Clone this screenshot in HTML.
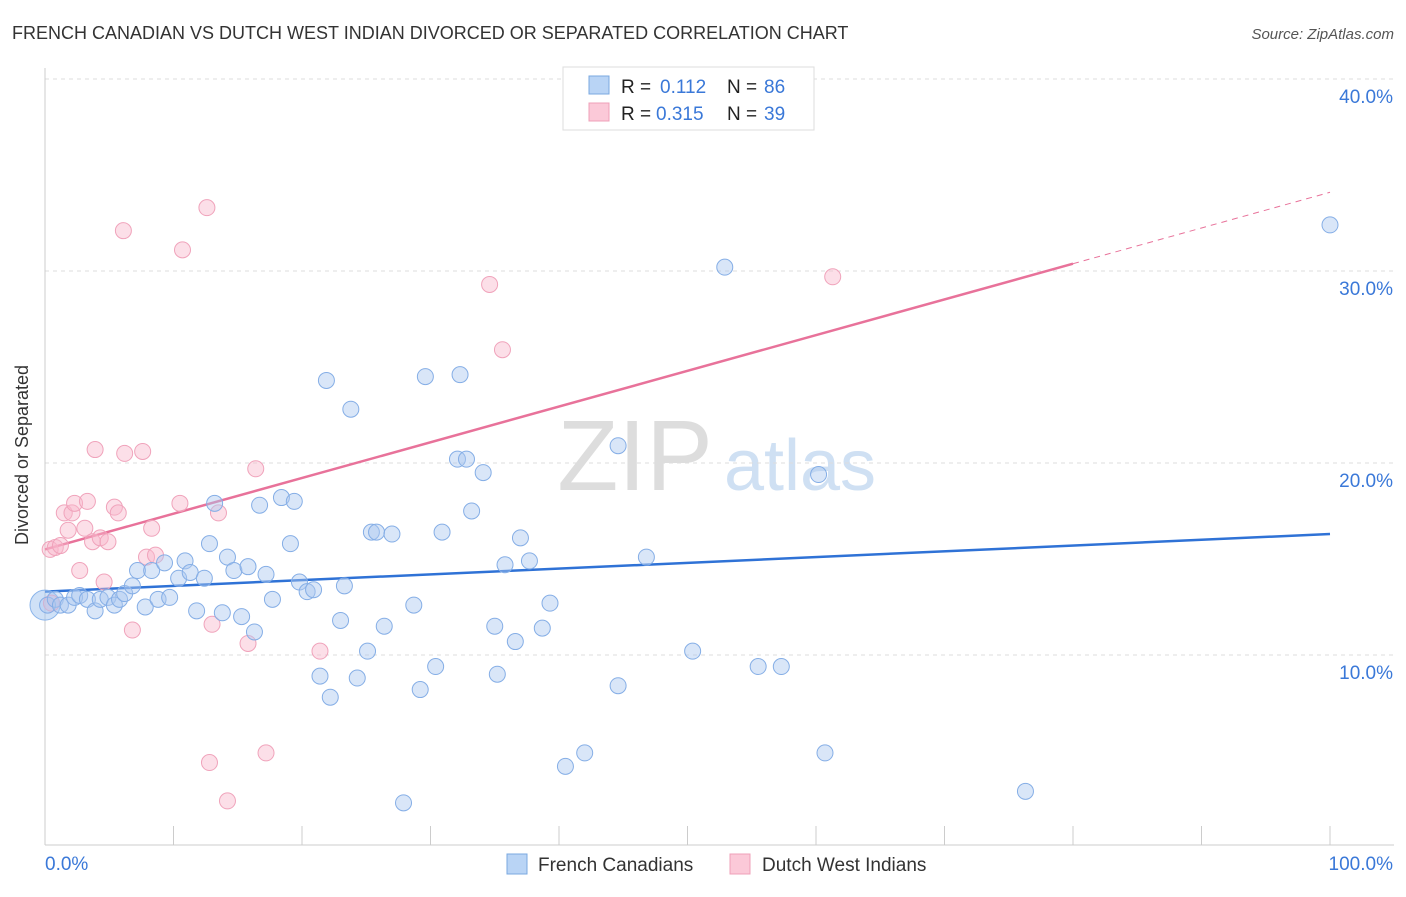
<!DOCTYPE html>
<html><head><meta charset="utf-8"><style>
body{margin:0;background:#fff;font-family:"Liberation Sans",sans-serif;}
svg text{font-family:"Liberation Sans",sans-serif;}
</style></head><body>
<svg id="chart" width="1406" height="892" xmlns="http://www.w3.org/2000/svg">
<text x="12" y="39" font-size="18" fill="#333">FRENCH CANADIAN VS DUTCH WEST INDIAN DIVORCED OR SEPARATED CORRELATION CHART</text>
<text x="1394" y="39" font-size="15" fill="#555" font-style="italic" text-anchor="end">Source: ZipAtlas.com</text>
<text x="28" y="455" font-size="18" fill="#333" text-anchor="middle" transform="rotate(-90 28 455)">Divorced or Separated</text>
<g>
<text x="635" y="490" font-size="100" fill="#ddd" font-family="Liberation Serif,serif" text-anchor="middle">ZIP</text>
<text x="800" y="490" font-size="72" fill="#cfe0f3" text-anchor="middle">atlas</text>
</g>
<g id="grid"></g><g id="axes"></g><g id="trends"></g><g id="pts"></g>
<g>
<rect x="563" y="67" width="251" height="63" fill="#fff" stroke="#ddd"/>
<rect x="589" y="76" width="20" height="18" fill="#b9d4f5" stroke="#7aa8e0"/>
<rect x="589" y="103" width="20" height="18" fill="#fbc9d8" stroke="#efa0b8"/>
<text x="621" y="93" font-size="19" fill="#222">R = </text><text x="660" y="93" font-size="19" fill="#3a78d8">0.112</text>
<text x="727" y="93" font-size="19" fill="#222">N = </text><text x="764" y="93" font-size="19" fill="#3a78d8">86</text>
<text x="621" y="120" font-size="19" fill="#222">R = </text><text x="656" y="120" font-size="19" fill="#3a78d8">0.315</text>
<text x="727" y="120" font-size="19" fill="#222">N = </text><text x="764" y="120" font-size="19" fill="#3a78d8">39</text>
</g>
<g>
<rect x="507" y="854" width="20" height="20" fill="#b9d4f5" stroke="#7aa8e0"/>
<text x="538" y="871" font-size="19" fill="#333">French Canadians</text>
<rect x="730" y="854" width="20" height="20" fill="#fbc9d8" stroke="#efa0b8"/>
<text x="762" y="871" font-size="19" fill="#333">Dutch West Indians</text>
</g>
</svg>
<script>
const yTicks=[10,20,30,40];
const xTickLabels=["0.0%","100.0%"];
const blueX=[0.2,0.8,1.2,1.8,2.3,2.7,3.3,3.9,4.3,4.9,5.4,5.8,6.2,6.8,7.2,7.8,8.3,8.8,9.3,9.7,10.4,10.9,11.3,11.8,12.4,12.8,13.2,13.8,14.2,14.7,15.3,15.8,16.3,16.7,17.2,17.7,18.4,19.1,19.4,19.8,20.4,20.9,21.4,21.9,22.2,23.0,23.3,23.8,24.3,25.1,25.4,25.8,26.4,27.0,27.9,28.7,29.2,29.6,30.4,30.9,32.1,32.3,32.8,33.2,34.1,35.0,35.2,35.8,36.6,37.0,37.7,38.7,39.3,40.5,42.0,44.6,44.6,46.8,50.4,52.9,55.5,57.3,60.2,60.7,76.3,100];
const blueY=[12.6,12.9,12.6,12.6,13.0,13.1,12.9,12.3,12.9,13.0,12.6,12.9,13.2,13.6,14.4,12.5,14.4,12.9,14.8,13.0,14.0,14.9,14.3,12.3,14.0,15.8,17.9,12.2,15.1,14.4,12.0,14.6,11.2,17.8,14.2,12.9,18.2,15.8,18.0,13.8,13.3,13.4,8.9,24.3,7.8,11.8,13.6,22.8,8.8,10.2,16.4,16.4,11.5,16.3,2.3,12.6,8.2,24.5,9.4,16.4,20.2,24.6,20.2,17.5,19.5,11.5,9.0,14.7,10.7,16.1,14.9,11.4,12.7,4.2,4.9,20.9,8.4,15.1,10.2,30.2,9.4,9.4,19.4,4.9,2.9,32.4];
const pinkX=[0.4,0.8,1.2,1.5,1.8,2.1,2.3,2.7,3.1,3.3,3.7,3.9,4.3,4.6,4.9,5.4,5.7,6.1,6.2,6.8,7.6,7.9,8.3,8.6,10.5,10.7,12.6,12.8,13.0,13.5,14.2,15.8,16.4,17.2,21.4,34.6,35.6,61.3,0.5];
const pinkY=[15.5,15.6,15.7,17.4,16.5,17.4,17.9,14.4,16.6,18.0,15.9,20.7,16.1,13.8,15.9,17.7,17.4,32.1,20.5,11.3,20.6,15.1,16.6,15.2,17.9,31.1,33.3,4.4,11.6,17.4,2.4,10.6,19.7,4.9,10.2,29.3,25.9,29.7,12.7];
const blueTrend=[13.3,16.3];
const pinkTrend=[15.5,34.1];
const pinkSolidEnd=80;
const NS="http://www.w3.org/2000/svg";
const X=v=>45+v*12.85, Y=v=>847-v*19.2;
function mk(t,a,p){const e=document.createElementNS(NS,t);for(const k in a)e.setAttribute(k,a[k]);p.appendChild(e);return e;}
const grid=document.getElementById('grid'),axes=document.getElementById('axes');
yTicks.forEach(t=>{const l=mk('line',{x1:45,x2:1394,y1:Y(t),y2:Y(t),stroke:'#ddd','stroke-dasharray':'4,4'},grid);


const tx=mk('text',{x:1393,y:Y(t)+24,'font-size':19,fill:'#3a78d8','text-anchor':'end'},axes);tx.textContent=t.toFixed(1)+'%';

});
const ax=mk('line',{x1:45,x2:1394,y1:845,y2:845,stroke:'#ccc'},axes);


const ay=mk('line',{x1:45,x2:45,y1:68,y2:845,stroke:'#ccc'},axes);


for(let i=1;i<=10;i++){const t=mk('line',{x1:X(i*10),x2:X(i*10),y1:826,y2:845,stroke:'#ccc'},axes);

}
[[0,'start',45],[1,'end',1393]].forEach(([i,a,x])=>{const t=mk('text',{x:x,y:870,'font-size':19,fill:'#3a78d8','text-anchor':a},axes);t.textContent=xTickLabels[i];

});
const tr=document.getElementById('trends');
const bl=mk('line',{x1:X(0),y1:Y(blueTrend[0]),x2:X(100),y2:Y(blueTrend[1]),stroke:'#2f72d6','stroke-width':2.5},tr);


const pm=pinkTrend[0]+(pinkTrend[1]-pinkTrend[0])*pinkSolidEnd/100;
const pl=mk('line',{x1:X(0),y1:Y(pinkTrend[0]),x2:X(pinkSolidEnd),y2:Y(pm),stroke:'#e8729a','stroke-width':2.5},tr);


const pd=mk('line',{x1:X(pinkSolidEnd),y1:Y(pm),x2:X(100),y2:Y(pinkTrend[1]),stroke:'#e8729a','stroke-width':1,'stroke-dasharray':'6,5'},tr);


const pts=document.getElementById('pts');
const big=mk('circle',{cx:X(0),cy:Y(12.6),r:15,fill:'rgba(160,195,240,0.5)',stroke:'#8ab4ea'},pts);


pinkX.forEach((v,i)=>{const c=mk('circle',{cx:X(v),cy:Y(pinkY[i]),r:8,fill:'rgba(248,185,205,0.45)',stroke:'#f0a3bb'},pts);

});
blueX.forEach((v,i)=>{const c=mk('circle',{cx:X(v),cy:Y(blueY[i]),r:8,fill:'rgba(170,200,240,0.45)',stroke:'#85aee6'},pts);

});
</script>
</body></html>
